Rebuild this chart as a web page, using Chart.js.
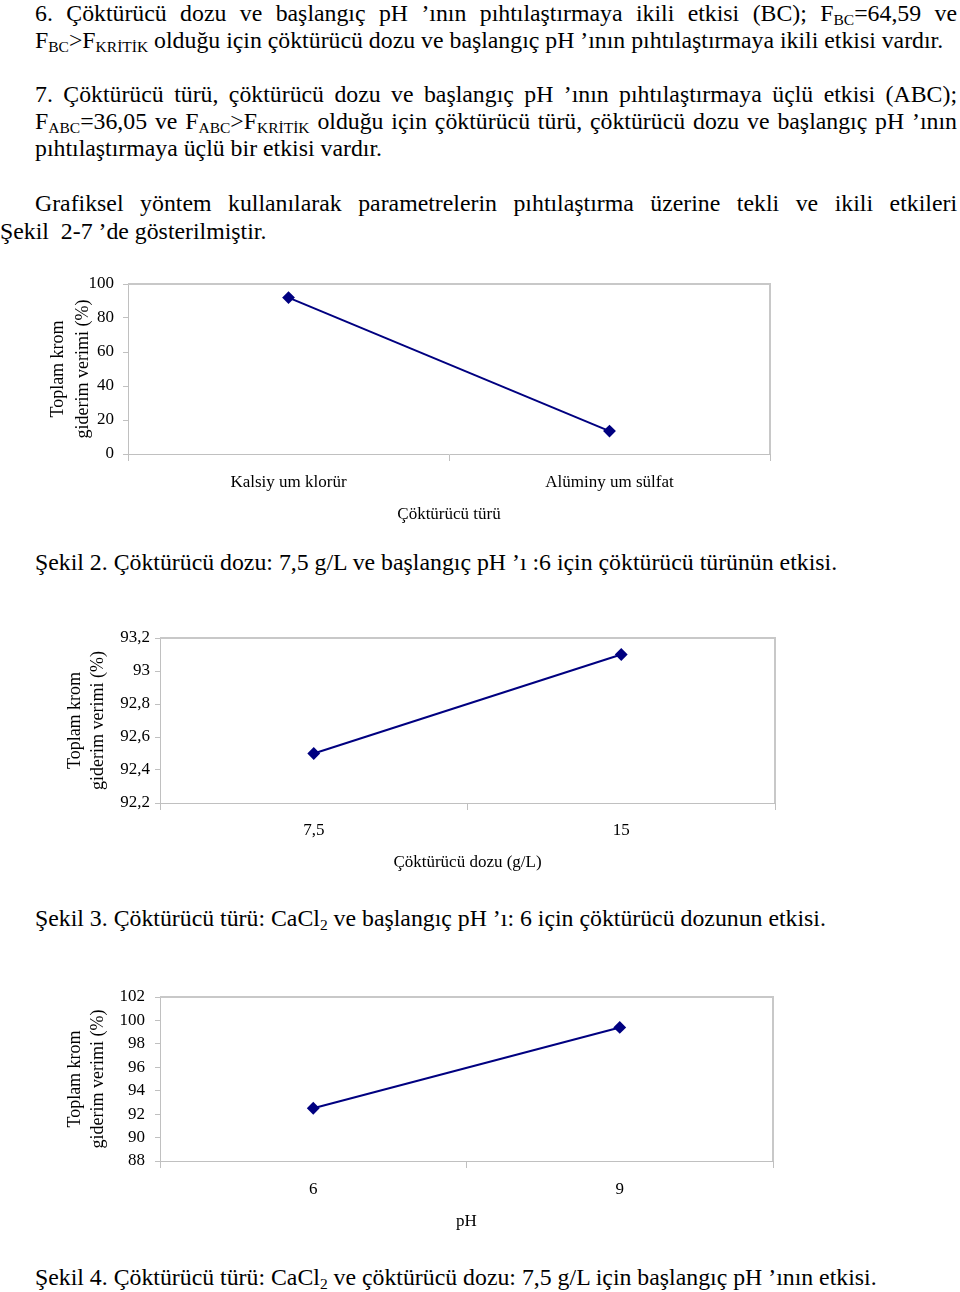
<!DOCTYPE html>
<html>
<head>
<meta charset="utf-8">
<title>Şekil 2-4</title>
<script src="https://cdn.jsdelivr.net/npm/chart.js"></script>
<style>
  body {
    margin: 0; width: 960px; height: 1292px; position: relative; overflow: hidden;
    background: #fff; color: #000;
    font-family: "Liberation Serif", "Times New Roman", serif;
  }
  .ln { position: absolute; left: 35px; width: 922px; font-size: 23.8px; line-height: 26px; white-space: nowrap; }
  .j { text-align: justify; text-align-last: justify; white-space: normal; }
  sub { font-size: 15.5px; vertical-align: -4px; line-height: 0; }
  canvas { position: absolute; }
</style>
</head>
<body>

<div class="ln j" style="top:0px">6. Çöktürücü dozu ve başlangıç pH ’ının pıhtılaştırmaya ikili etkisi (BC); F<sub>BC</sub>=64,59 ve</div>
<div class="ln" style="top:27px">F<sub>BC</sub>&gt;F<sub>KRİTİK</sub> olduğu için çöktürücü dozu ve başlangıç pH ’ının pıhtılaştırmaya ikili etkisi vardır.</div>

<div class="ln j" style="top:81px">7. Çöktürücü türü, çöktürücü dozu ve başlangıç pH ’ının pıhtılaştırmaya üçlü etkisi (ABC);</div>
<div class="ln j" style="top:108px">F<sub>ABC</sub>=36,05 ve F<sub>ABC</sub>&gt;F<sub>KRİTİK</sub> olduğu için çöktürücü türü, çöktürücü dozu ve başlangıç pH ’ının</div>
<div class="ln" style="top:135px">pıhtılaştırmaya üçlü bir etkisi vardır.</div>

<div class="ln j" style="top:190px">Grafiksel yöntem kullanılarak parametrelerin pıhtılaştırma üzerine tekli ve ikili etkileri</div>
<div class="ln" style="top:218px; left:0">Şekil&nbsp; 2-7 ’de gösterilmiştir.</div>

<canvas id="c1" width="750" height="260" style="left:40px; top:270px"></canvas>
<div class="ln" style="top:549px">Şekil 2. Çöktürücü dozu: 7,5 g/L ve başlangıç pH ’ı :6 için çöktürücü türünün etkisi.</div>

<canvas id="c2" width="740" height="270" style="left:60px; top:620px"></canvas>
<div class="ln" style="top:905px">Şekil 3. Çöktürücü türü: CaCl<sub>2</sub> ve başlangıç pH ’ı: 6 için çöktürücü dozunun etkisi.</div>

<canvas id="c3" width="740" height="270" style="left:60px; top:980px"></canvas>
<div class="ln" style="top:1264px">Şekil 4. Çöktürücü türü: CaCl<sub>2</sub> ve çöktürücü dozu: 7,5 g/L için başlangıç pH ’ının etkisi.</div>

<script>
// Şekil 2 - çöktürücü türü
const turLabels = ['Kalsiy um klorür', 'Alüminy um sülfat'];
const turValues = [92, 13.5];
const turTicks = [0, 20, 40, 60, 80, 100];

// Şekil 3 - çöktürücü dozu
const dozLabels = ['7,5', '15'];
const dozValues = [92.5, 93.1];
const dozTicks = [92.2, 92.4, 92.6, 92.8, 93, 93.2];

// Şekil 4 - pH
const phLabels = ['6', '9'];
const phValues = [92.5, 99.4];
const phTicks = [88, 90, 92, 94, 96, 98, 100, 102];

const yTitle = ['Toplam krom', 'giderim verimi (%)'];
const axisGray = '#c0c0c0';
const fontFam = '"Liberation Serif", "Times New Roman", serif';

// ramka wykresu (góra i prawa strona)
const frame = {
  id: 'frame',
  afterDraw(chart) {
    const a = chart.chartArea, c = chart.ctx;
    c.save();
    c.strokeStyle = '#c8c8c8';
    c.lineWidth = 2;
    c.beginPath();
    c.moveTo(a.left, a.top);
    c.lineTo(a.right, a.top);
    c.lineTo(a.right, a.bottom);
    c.stroke();
    c.restore();
  }
};

function fmt(v) {
  return String(Math.round(v * 10) / 10).replace('.', ',');
}

function makeChart(id, labels, values, yTicks, xTitle, g) {
  new Chart(document.getElementById(id), {
    type: 'line',
    data: {
      labels: labels,
      datasets: [{
        data: values,
        borderColor: '#000080',
        backgroundColor: '#000080',
        borderWidth: 2,
        pointStyle: 'rectRot',
        pointRadius: 5,
        tension: 0
      }]
    },
    options: {
      responsive: false,
      animation: false,
      layout: { autoPadding: false, padding: { top: g.top, right: g.right, left: 0, bottom: 0 } },
      plugins: { legend: { display: false }, tooltip: { enabled: false } },
      scales: {
        x: {
          offset: true,
          grid: { offset: true, drawOnChartArea: false, tickLength: 7, color: axisGray },
          border: { color: axisGray },
          ticks: { color: '#000', font: { family: fontFam, size: 17 }, padding: g.xPad, maxRotation: 0 },
          title: { display: true, text: xTitle, color: '#000', font: { family: fontFam, size: 17, lineHeight: '20px' }, padding: { top: 0, bottom: g.xtPad } },
          afterFit(s) { s.height = g.xH; s.paddingLeft = 0; s.paddingRight = 0; }
        },
        y: {
          min: yTicks[0],
          max: yTicks[yTicks.length - 1],
          grid: { drawOnChartArea: false, tickLength: 5, color: axisGray },
          border: { color: axisGray },
          ticks: { color: '#000', font: { family: fontFam, size: 17 }, padding: g.yPad, autoSkip: false, callback: fmt },
          title: { display: true, text: yTitle, color: '#000', font: { family: fontFam, size: 18, lineHeight: g.ytLH + 'px' }, padding: { top: g.ytPad, bottom: 0 } },
          afterBuildTicks(s) { s.ticks = yTicks.map(v => ({ value: v })); },
          afterFit(s) { s.width = g.yW; s.paddingTop = 0; s.paddingBottom = 0; }
        }
      }
    },
    plugins: [frame]
  });
}

makeChart('c1', turLabels, turValues, turTicks, 'Çöktürücü türü',
  { top: 14, right: 20, yW: 88, yPad: 9, ytPad: 5.5, ytLH: 25, xH: 76, xPad: 11, xtPad: 5 });
makeChart('c2', dozLabels, dozValues, dozTicks, 'Çöktürücü dozu (g/L)',
  { top: 18, right: 25, yW: 100, yPad: 5, ytPad: 3.5, ytLH: 23, xH: 87, xPad: 10, xtPad: 17 });
makeChart('c3', phLabels, phValues, phTicks, 'pH',
  { top: 17, right: 27, yW: 100, yPad: 10, ytPad: 3.5, ytLH: 23, xH: 89, xPad: 11, xtPad: 18 });
</script>
</body>
</html>
